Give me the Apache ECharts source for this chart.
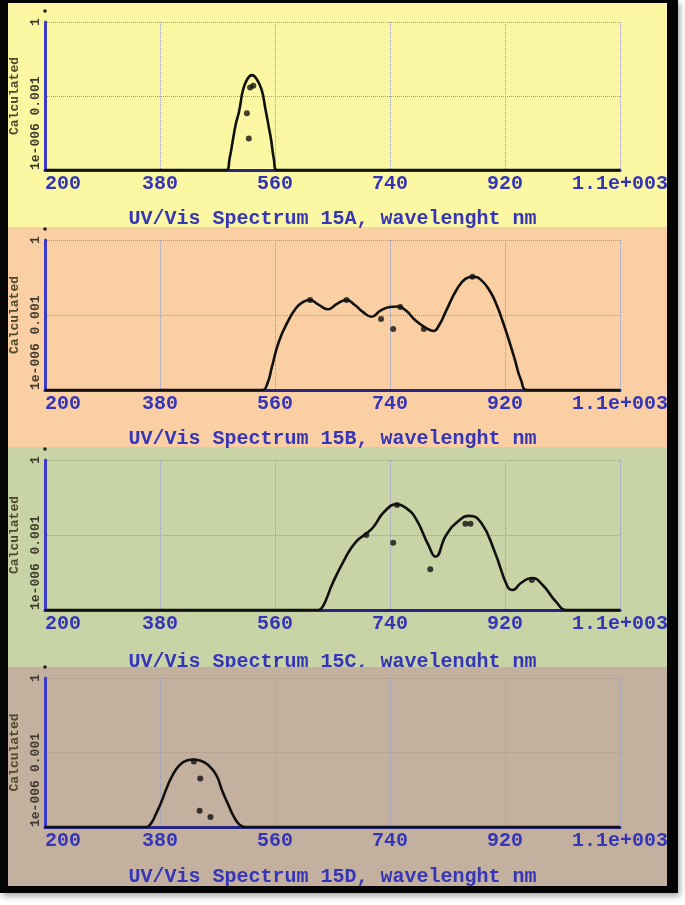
<!DOCTYPE html>
<html>
<head>
<meta charset="utf-8">
<script src="https://cdn.jsdelivr.net/npm/echarts@6/dist/echarts.min.js"></script>
<style>
html,body{margin:0;padding:0;background:#ffffff;}
#chart{width:685px;height:905px;}
</style>
</head>
<body>
<div id="chart"></div>
<script>
// ---- data ----
const xTicks = [200, 380, 560, 740, 920, 1100];
const yTicks = [1e-6, 1e-3, 1];
const panelTitles = [
  'UV/Vis Spectrum 15A, wavelenght nm',
  'UV/Vis Spectrum 15B, wavelenght nm',
  'UV/Vis Spectrum 15C, wavelenght nm',
  'UV/Vis Spectrum 15D, wavelenght nm'
];

// Panel A
const curveA_nm = [200, 484, 489, 494, 499, 504, 510, 517, 524, 531, 539, 545, 550, 554, 558, 563, 1100];
const curveA_val = [1e-6, 1e-6, 3e-6, 1.6e-5, 8e-5, 2.5e-4, 1.8e-3, 5e-3, 7e-3, 5e-3, 1.8e-3, 3e-4, 6e-5, 1.6e-5, 3e-6, 1e-6, 1e-6];
const dotsA_nm = [521, 526, 516, 519];
const dotsA_val = [2.2e-3, 2.6e-3, 2.0e-4, 1.9e-5];

// Panel B
const curveB_nm = [200, 540, 548, 555, 566, 580, 593, 603, 614, 628, 643, 657, 672, 685, 698, 711, 725, 740, 752, 765, 780, 795, 808, 817, 828, 844, 858, 870, 882, 897, 907, 917, 926, 935, 945, 955, 1100];
const curveB_val = [1e-6, 1e-6, 1.8e-6, 8e-6, 8.5e-5, 5.4e-4, 1.9e-3, 3.2e-3, 4e-3, 2.6e-3, 1.7e-3, 2.8e-3, 4e-3, 2.5e-3, 1.3e-3, 8.5e-4, 1.5e-3, 2.1e-3, 2.2e-3, 1.5e-3, 6e-4, 3.2e-4, 2.3e-4, 4e-4, 1.5e-3, 1e-2, 2.8e-2, 3.4e-2, 2.6e-2, 8.5e-3, 2.5e-3, 5e-4, 1e-4, 1.8e-5, 2.5e-6, 1e-6, 1e-6];
const dotsB_nm = [615, 672, 726, 745, 756, 793, 869];
const dotsB_val = [4e-3, 4e-3, 6.9e-4, 2.75e-4, 2.1e-3, 2.75e-4, 3.4e-2];

// Panel C
const curveC_nm = [200, 628, 634, 641, 649, 670, 687, 704, 714, 731, 751, 765, 780, 800, 811, 828, 849, 864, 883, 904, 924, 932, 945, 962, 979, 1000, 1017, 1100];
const curveC_val = [1e-6, 1e-6, 1.3e-6, 3e-6, 1e-5, 1.2e-4, 5.4e-4, 1.2e-3, 2.1e-3, 8.5e-3, 1.7e-2, 1.2e-2, 4.7e-3, 4e-4, 1.35e-4, 1e-3, 4e-3, 5.8e-3, 3e-3, 2.1e-4, 8.5e-6, 6.3e-6, 1.2e-5, 1.9e-5, 1e-5, 2.1e-6, 1e-6, 1e-6];
const dotsC_nm = [703, 745, 751, 803, 858, 866, 962];
const dotsC_val = [1e-3, 4.9e-4, 1.6e-2, 4.3e-5, 2.8e-3, 2.8e-3, 1.6e-5];

// Panel D
const curveD_nm = [200, 358, 366, 374, 382, 391, 400, 411, 422, 432, 442, 455, 468, 478, 487, 496, 505, 514, 1100];
const curveD_val = [1e-6, 1e-6, 1.4e-6, 3.5e-6, 1e-5, 4e-5, 1.25e-4, 3.2e-4, 4.8e-4, 5.2e-4, 4.8e-4, 3.2e-4, 1.25e-4, 2.6e-5, 7.8e-6, 2.5e-6, 1.2e-6, 1e-6, 1e-6];
const dotsD_nm = [433, 443, 442, 459];
const dotsD_val = [4.3e-4, 9e-5, 4.5e-6, 2.5e-6];

const curves = [[curveA_nm, curveA_val], [curveB_nm, curveB_val], [curveC_nm, curveC_val], [curveD_nm, curveD_val]];
const dots = [[dotsA_nm, dotsA_val], [dotsB_nm, dotsB_val], [dotsC_nm, dotsC_val], [dotsD_nm, dotsD_val]];

// ---- layout / style ----
const gridTops = [22, 240, 460, 678];
const gridHeights = [148, 150, 150, 149];
const nameGaps = [39, 39, 42, 40];
const panelRects = [[3, 224], [227, 220], [447, 220], [667, 219]];
const panelColors = ['#fbf7a2', '#fbcfa4', '#c8d4a5', '#c4b09f'];
const FONT = 'Liberation Mono';
const BLUE = '#3535b8';

const zip = (a, b) => a.map((v, i) => [v, b[i]]);

const grid = [], xAxis = [], yAxis = [], series = [];
for (let i = 0; i < 4; i++) {
  const zBase = i === 3 ? 3 : 0;
  grid.push({left: 45, width: 575, top: gridTops[i], height: gridHeights[i], containLabel: false});
  xAxis.push({
    type: 'value', gridIndex: i, min: 200, max: 1100, interval: 180, z: zBase,
    name: panelTitles[i], nameLocation: 'middle', nameGap: nameGaps[i],
    nameTextStyle: {color: BLUE, fontFamily: FONT, fontWeight: 'bold', fontSize: 20},
    axisLine: {show: true, onZero: false, lineStyle: {color: '#262680', width: 3}},
    axisTick: {show: false},
    axisLabel: {
      color: BLUE, fontFamily: FONT, fontWeight: 'bold', fontSize: 20, margin: 4,
      alignMinLabel: 'left',
      formatter: v => v === 1100 ? '1.1e+003' : String(v)
    },
    splitLine: {show: true, lineStyle: {color: '#9a9aaa', type: 'dotted', width: 1}}
  });
  yAxis.push({
    type: 'log', logBase: 1000, gridIndex: i, min: 1e-6, max: 1, z: zBase,
    name: 'Calculated', nameLocation: 'middle', nameGap: 23,
    nameTextStyle: {color: '#4f4a2c', fontFamily: FONT, fontWeight: 'bold', fontSize: 13},
    axisLine: {show: true, lineStyle: {color: '#3b3bc8', width: 3}},
    axisTick: {show: false},
    axisLabel: {
      rotate: 90, margin: 3, color: '#3f3b2e', fontFamily: FONT, fontWeight: 'bold', fontSize: 13,
      alignMinLabel: 'left',
      formatter: v => {
        const e = Math.round(Math.log10(v));
        return e === 0 ? '1' : (e === -3 ? '0.001' : '1e-006');
      }
    },
    splitLine: {show: true, lineStyle: {color: '#9a9aaa', type: 'dotted', width: 1}}
  });
  series.push({
    type: 'line', xAxisIndex: i, yAxisIndex: i, z: zBase + 2,
    data: zip(curves[i][0], curves[i][1]),
    smooth: 0.5, showSymbol: false, symbol: 'none',
    lineStyle: {color: '#111', width: 2.6}, clip: true
  });
  series.push({
    type: 'scatter', xAxisIndex: i, yAxisIndex: i, z: zBase + 3,
    data: zip(dots[i][0], dots[i][1]),
    symbolSize: 6, itemStyle: {color: '#111'}
  });
}

const graphic = [
  {type: 'rect', z: -20, shape: {x: 0, y: 0, width: 678, height: 893},
   style: {fill: '#050505', shadowBlur: 6, shadowColor: 'rgba(0,0,0,0.35)', shadowOffsetX: 2, shadowOffsetY: 3}}
];
panelRects.forEach((r, i) => {
  graphic.push({type: 'rect', z: i === 3 ? 1 : -10,
    shape: {x: 8, y: r[0], width: 659, height: r[1]}, style: {fill: panelColors[i]}});
});
// small decorative dot above each y axis
gridTops.forEach((t, i) => {
  graphic.push({type: 'circle', z: 5, shape: {cx: 45, cy: t - 11, r: 1.8}, style: {fill: '#222'}});
});

const chart = echarts.init(document.getElementById('chart'), null, {renderer: 'canvas'});
chart.setOption({
  animation: false,
  backgroundColor: '#ffffff',
  graphic: graphic,
  grid: grid, xAxis: xAxis, yAxis: yAxis, series: series
});
</script>
</body>
</html>
